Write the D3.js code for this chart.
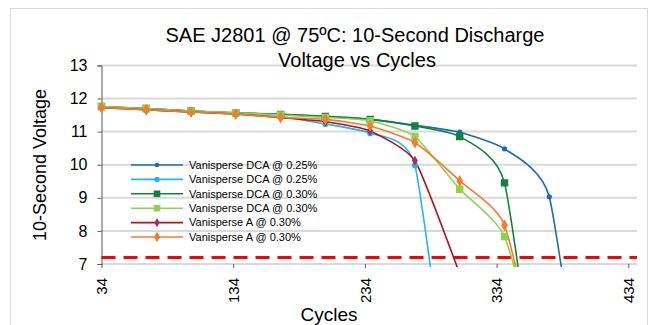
<!DOCTYPE html>
<html>
<head>
<meta charset="utf-8">
<script src="https://cdn.jsdelivr.net/npm/d3@7"></script>
<style>
  body { margin: 0; background: #fff; }
  text { font-family: "Liberation Sans", Arial, sans-serif; fill: #000; }
</style>
</head>
<body>
<div id="chart"></div>
<script>
// cycles at which every test was read
var cycles = [34, 68, 102, 136, 170, 204, 238, 272, 306, 340, 374, 408];

// 10-second voltage per series (last value falls below the axis floor)
var dca025a = [11.75, 11.69, 11.62, 11.56, 11.52, 11.46, 11.37, 11.19, 10.98, 10.48, 9.03, 0];
var dca025b = [11.73, 11.66, 11.59, 11.53, 11.45, 11.23, 10.95, 9.98, 0];
var dca030a = [11.76, 11.70, 11.62, 11.57, 11.52, 11.46, 11.37, 11.17, 10.85, 9.45, 0];
var dca030b = [11.76, 11.70, 11.62, 11.57, 11.50, 11.43, 11.33, 10.85, 9.26, 7.83, 3];
var a030a   = [11.72, 11.66, 11.59, 11.53, 11.42, 11.30, 11.02, 10.12, 6.7];
var a030b   = [11.73, 11.66, 11.59, 11.53, 11.43, 11.37, 11.17, 10.67, 9.51, 8.17, 2.5];

var seriesNames = ["Vanisperse DCA @ 0.25%", "Vanisperse DCA @ 0.25%", "Vanisperse DCA @ 0.30%",
                   "Vanisperse DCA @ 0.30%", "Vanisperse A @ 0.30%", "Vanisperse A @ 0.30%"];
var yTicks = [7, 8, 9, 10, 11, 12, 13];
var xTicks = [34, 134, 234, 334, 434];
var limitVoltage = 7.2;

var series = [
  {name: seriesNames[0], values: dca025a, color: "#1a6db0", dot: "#1a6db0", marker: "circle", size: 22},
  {name: seriesNames[1], values: dca025b, color: "#23b4ec", dot: "#23b4ec", marker: "circle", size: 30},
  {name: seriesNames[2], values: dca030a, color: "#118241", dot: "#118241", marker: "square", size: 55},
  {name: seriesNames[3], values: dca030b, color: "#92d050", dot: "#92d050", marker: "square", size: 55},
  {name: seriesNames[4], values: a030a,   color: "#b3121f", dot: "#a3325a", marker: "diamond", size: 30},
  {name: seriesNames[5], values: a030b,   color: "#f47b2f", dot: "#f47b2f", marker: "diamond", size: 40}
];

var W = 658, H = 325;
var svg = d3.select("#chart").append("svg")
    .attr("width", W)
    .attr("height", H);

// outer chart frame
svg.append("rect")
    .attr("x", 10.5).attr("y", 8.5)
    .attr("width", 637).attr("height", 330)
    .attr("fill", "#fff")
    .attr("stroke", "#d9d9d9");

var x = d3.scaleLinear().domain([34, 434]).range([101.5, 628.3]);
var y = d3.scaleLinear().domain([7, 13]).range([264, 65.4]);

// gridlines
svg.append("g")
  .selectAll("line")
  .data(yTicks)
  .enter().append("line")
    .attr("x1", x(34)).attr("x2", 637)
    .attr("y1", function(d) { return y(d); })
    .attr("y2", function(d) { return y(d); })
    .attr("stroke", "#d9d9d9")
    .attr("stroke-width", 2);

// y axis
var yAxis = svg.append("g")
    .attr("transform", "translate(" + x(34) + ",0)")
    .call(d3.axisLeft(y).tickValues(yTicks).tickFormat(d3.format("d")).tickSize(4).tickPadding(10));
yAxis.select(".domain").attr("stroke", "#595959");
yAxis.selectAll(".tick line").attr("stroke", "#595959");
yAxis.selectAll(".tick text").style("font-size", "16px").attr("fill", "#000");

// x axis
var xAxis = svg.append("g")
    .attr("transform", "translate(0," + y(7) + ")")
    .call(d3.axisBottom(x).tickValues(xTicks).tickSize(4).tickSizeOuter(0));
xAxis.select(".domain").remove();
xAxis.selectAll(".tick line").attr("stroke", "#595959");
xAxis.selectAll(".tick text")
    .style("font-size", "15px")
    .attr("fill", "#000")
    .attr("text-anchor", "end")
    .attr("transform", "rotate(-90)")
    .attr("x", -14).attr("y", 0).attr("dy", "0.35em");

// threshold line
svg.append("line")
    .attr("x1", x(34)).attr("x2", 637)
    .attr("y1", y(limitVoltage)).attr("y2", y(limitVoltage))
    .attr("stroke", "#ff0000")
    .attr("stroke-width", 3)
    .attr("stroke-dasharray", "14,8");

// clip the lines to the plot area
svg.append("clipPath").attr("id", "plot")
  .append("rect")
    .attr("x", x(34) - 6).attr("y", 40)
    .attr("width", 560).attr("height", y(7) + 3 - 40);

var line = d3.line()
    .x(function(d) { return x(d.c); })
    .y(function(d) { return y(d.v); })
    .curve(d3.curveCardinal.tension(0.5));

function points(s) {
  return s.values.map(function(v, i) { return {c: cycles[i], v: v}; });
}

var symbols = {circle: d3.symbolCircle, square: d3.symbolSquare, diamond: d3.symbolDiamond};

var plot = svg.append("g").attr("clip-path", "url(#plot)");
series.forEach(function(s) {
  plot.append("path")
      .datum(points(s))
      .attr("fill", "none")
      .attr("stroke", s.color)
      .attr("stroke-width", 1.6)
      .attr("d", line);
});
series.forEach(function(s) {
  plot.selectAll(null)
      .data(points(s).filter(function(d) { return d.v >= 7; }))
      .enter().append("path")
      .attr("transform", function(d) { return "translate(" + x(d.c) + "," + y(d.v) + ")"; })
      .attr("d", d3.symbol().type(symbols[s.marker]).size(s.size))
      .attr("fill", s.dot);
});

// legend
var legend = svg.append("g").attr("transform", "translate(131,165)");
series.forEach(function(s, i) {
  var g = legend.append("g").attr("transform", "translate(0," + (i * 14.4) + ")");
  g.append("line")
      .attr("x1", 0).attr("x2", 52)
      .attr("stroke", s.color).attr("stroke-width", 1.6);
  g.append("path")
      .attr("transform", "translate(26,0)")
      .attr("d", d3.symbol().type(symbols[s.marker]).size(s.size * 0.8))
      .attr("fill", s.dot);
  g.append("text")
      .attr("x", 58).attr("dy", "0.35em")
      .style("font-size", "11px")
      .text(s.name);
});

// titles
svg.append("text")
    .attr("x", 355).attr("y", 42)
    .attr("text-anchor", "middle")
    .style("font-size", "20px")
    .text("SAE J2801 @ 75ºC: 10-Second Discharge");
svg.append("text")
    .attr("x", 357).attr("y", 67)
    .attr("text-anchor", "middle")
    .style("font-size", "20px")
    .text("Voltage vs Cycles");

svg.append("text")
    .attr("x", 329).attr("y", 321)
    .attr("text-anchor", "middle")
    .style("font-size", "19px")
    .text("Cycles");

svg.append("text")
    .attr("transform", "translate(46,165) rotate(-90)")
    .attr("text-anchor", "middle")
    .style("font-size", "18px")
    .text("10-Second  Voltage");
</script>
</body>
</html>
